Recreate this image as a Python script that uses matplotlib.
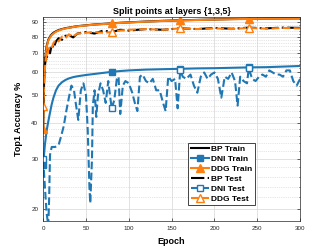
import matplotlib
matplotlib.use("Agg")
import matplotlib.pyplot as plt
from matplotlib.ticker import FixedLocator, NullFormatter, MultipleLocator

plt.rcParams['font.family'] = ['Liberation Sans', 'DejaVu Sans']

# shared epoch grid for the smooth-ish curves
epochs = [0, 1, 2, 3, 4, 5, 6, 8, 10, 12, 15, 18, 22, 26, 30, 35, 40, 50, 60, 70,
          80, 90, 100, 120, 140, 160, 180, 200, 220, 240, 260, 280, 300]

bp_train = [38, 55, 64, 70, 74, 76, 78, 80, 81.5, 82.5, 83.5, 84.3, 85, 85.6, 86, 86.5,
            87, 87.6, 88.2, 88.6, 89, 89.4, 89.7, 90.3, 90.8, 91.2, 91.5, 91.8, 92.1,
            92.3, 92.5, 92.6, 92.7]
ddg_train = [38, 53, 63, 69, 73, 75.5, 77.5, 79.5, 81, 82, 83.2, 84, 84.8, 85.4, 85.9,
             86.4, 86.9, 87.5, 88.1, 88.5, 88.9, 89.3, 89.6, 90.2, 90.7, 91.1, 91.4,
             91.7, 92.0, 92.2, 92.4, 92.5, 92.6]
bp_test = [44, 58, 63, 68, 66, 70, 72, 70, 75, 73, 77, 79, 78, 80.5, 81, 79.5, 82, 83,
           82, 84, 83, 84.5, 84, 85, 84.5, 85.5, 85, 85.8, 85.2, 86, 85.5, 86, 85.8]
ddg_test = [46, 57, 62, 66, 69, 68, 72, 74, 73, 76, 78, 77, 80, 79, 81.5, 80, 82, 82.5,
            83, 82.5, 83, 84, 84.5, 85, 84.5, 85.5, 85, 85.5, 85, 85.8, 85.3, 85.8, 85.5]
dni_train = [28.5, 31, 33.5, 35.5, 37.5, 39, 40.5, 43.5, 46.5, 49, 52, 54, 55.5, 56.5,
             57.2, 57.8, 58.2, 58.8, 59.3, 59.8, 60.3, 60.7, 61, 61.4, 61.6, 61.8, 62,
             62.1, 62.3, 62.5, 62.6, 62.9, 63.2]

# DNI test is noisy, own epoch list
dni_test_epochs = [0, 2, 4, 6, 7, 8, 10, 14, 18, 21, 24, 27, 30, 33, 36, 38, 41, 44, 47,
                   50, 52, 54, 55, 57, 58, 60, 62, 64, 67, 70, 73, 76, 78, 80, 83, 86, 88,
                   90, 93, 96, 100, 104, 107, 110, 113, 116, 120, 124, 128, 132, 136, 140,
                   143, 146, 150, 154, 157, 160, 163, 167, 172, 176, 180, 184, 188, 192,
                   196, 200, 204, 208, 212, 216, 220, 224, 227, 230, 234, 238, 240, 244,
                   248, 252, 256, 260, 264, 268, 272, 276, 280, 284, 288, 292, 296, 300]
dni_test = [30, 24, 19.5, 17.5, 22, 31, 33, 33, 33.5, 36, 39, 44, 49, 54, 52, 47, 41, 52,
            55, 50, 38, 24, 21, 30, 46, 52, 42, 50, 55, 52, 47, 56, 50, 45, 48, 57, 58,
            43, 54, 56, 55, 51, 47, 44, 58, 59, 56, 55, 57, 52, 52, 47, 44, 58, 56, 57,
            45, 61, 58, 57, 59, 54, 51, 58, 60, 57, 59, 60, 57, 49, 58, 57, 60, 56, 46,
            58, 56, 55, 62, 57, 56, 58, 59, 58, 61, 60, 59, 59, 58, 61, 61, 56, 54, 57]

mark_at = [0, 80, 160, 240]
yticks = [20, 30, 40, 50, 60, 70, 80, 90]

blue = '#1f77b4'
orange = '#ff7f0e'

mk = [epochs.index(e) for e in mark_at]
mk_dni = [dni_test_epochs.index(e) for e in mark_at]

fig = plt.figure(figsize=(3.32, 2.49), dpi=100)
ax = fig.add_axes([0.13, 0.112, 0.774, 0.82])

lw = 1.5
ax.plot(epochs, bp_train, '-', color='black', lw=lw, label='BP Train')
ax.plot(epochs, dni_train, '-', color=blue, lw=lw, marker='s', ms=5,
        markevery=mk, label='DNI Train')
ax.plot(epochs, ddg_train, '-', color=orange, lw=lw, marker='^', ms=6,
        markevery=mk, label='DDG Train')
ax.plot(epochs, bp_test, '-.', color='black', lw=lw, label='BP Test')
ax.plot(dni_test_epochs, dni_test, '--', color=blue, lw=lw, marker='s', ms=5,
        mfc='white', markevery=mk_dni, label='DNI Test')
ax.plot(epochs, ddg_test, '--', color=orange, lw=lw, marker='^', ms=6,
        mfc='white', markevery=mk, label='DDG Test')

ax.set_yscale('log')
ax.set_xlim(0, 300)
ax.set_ylim(18.2, 93.7)
ax.yaxis.set_major_locator(FixedLocator(yticks))
ax.yaxis.set_major_formatter(matplotlib.ticker.FixedFormatter([str(t) for t in yticks]))
ax.yaxis.set_minor_locator(MultipleLocator(2))
ax.yaxis.set_minor_formatter(NullFormatter())
ax.xaxis.set_major_locator(MultipleLocator(50))

ax.grid(True, which='major', color='#dddddd', lw=0.6)
ax.grid(True, which='minor', axis='y', color='#cccccc', lw=0.5, ls=':')
ax.set_axisbelow(True)
ax.tick_params(which='both', direction='in', top=True, right=True,
               labelsize=4.5, labelcolor='#262626', color='#262626', width=0.5)
ax.tick_params(which='major', length=2)
ax.tick_params(which='minor', length=1)
for s in ax.spines.values():
    s.set_color('#262626')
    s.set_linewidth(0.5)

ax.set_title('Split points at layers {1,3,5}', fontsize=6.5, fontweight='bold', pad=2)
ax.set_xlabel('Epoch', fontsize=6.5, fontweight='bold', labelpad=4)
ax.set_ylabel('Top1 Accuracy %', fontsize=6.5, fontweight='bold', labelpad=6)

leg = ax.legend(loc='lower left', bbox_to_anchor=(0.564, 0.078), fontsize=6,
                fancybox=False, edgecolor='#262626', framealpha=1, numpoints=1,
                handlelength=2.2, labelspacing=0.25, borderpad=0.3, handletextpad=0.3,
                borderaxespad=0)
leg.get_frame().set_linewidth(0.6)
for t in leg.get_texts():
    t.set_fontweight('bold')

fig.savefig('out.png', dpi=100)
